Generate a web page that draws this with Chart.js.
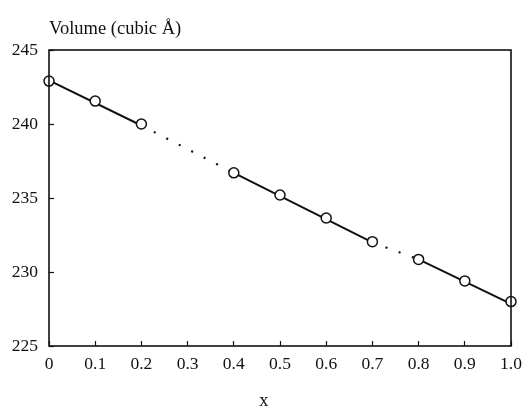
<!DOCTYPE html>
<html>
<head>
<meta charset="utf-8">
<script src="https://cdn.jsdelivr.net/npm/chart.js@4"></script>
<style>
  html, body { margin: 0; padding: 0; background: #fff; }
  #wrap { width: 525px; height: 410px; }
</style>
</head>
<body>
<div id="wrap"><canvas id="Chart"></canvas></div>
<script>
// measured points
const xVals = [0, 0.1, 0.2, 0.4, 0.5, 0.6, 0.7, 0.8, 0.9, 1.0];
const volume = [242.9, 241.55, 240.0, 236.7, 235.2, 233.65, 232.05, 230.85, 229.4, 228.0];
// fitted line: solid pieces joined by dotted pieces
const fitX = [0, 0.2, 0.4, 0.7, 0.8, 1.0];
const fitY = [242.95, 239.9, 236.7, 232.0, 230.85, 227.85];
const dottedSegs = [1, 3];
const xTicks = [0, 0.1, 0.2, 0.3, 0.4, 0.5, 0.6, 0.7, 0.8, 0.9, 1.0];
const yTicks = [225, 230, 235, 240, 245];

const yTitle = 'Volume (cubic Å)';
const xTitle = 'x';
const serif = '"Liberation Serif", "Times New Roman", serif';

const frame = {
  id: 'frame',
  afterDraw(chart) {
    const { ctx, chartArea: a } = chart;
    ctx.save();
    ctx.strokeStyle = '#111';
    ctx.lineWidth = 1.6;
    ctx.strokeRect(a.left, a.top, a.right - a.left, a.bottom - a.top);
    ctx.fillStyle = '#111';
    ctx.font = '18.5px ' + serif;
    ctx.textAlign = 'left';
    ctx.textBaseline = 'alphabetic';
    ctx.fillText(yTitle, a.left, a.top - 16);
    ctx.textAlign = 'center';
    ctx.fillText(xTitle, a.left + (a.right - a.left) * 0.465, a.bottom + 60);
    ctx.restore();
  }
};

function crearChart() {
  const ctx = document.getElementById('Chart');
  new Chart(ctx, {
    type: 'scatter',
    data: {
      datasets: [{
        data: xVals.map((x, i) => ({ x: x, y: volume[i] })),
        showLine: false,
        pointRadius: 5,
        pointBorderWidth: 1.5,
        pointBorderColor: '#111',
        pointBackgroundColor: '#fff',
        clip: false,
        order: 0
      }, {
        data: fitX.map((x, i) => ({ x: x, y: fitY[i] })),
        showLine: true,
        pointRadius: 0,
        borderColor: '#111',
        borderWidth: 2,
        clip: false,
        order: 1,
        segment: {
          borderDash: c => dottedSegs.includes(c.p0DataIndex) ? [2, 12] : undefined,
          borderWidth: c => dottedSegs.includes(c.p0DataIndex) ? 2.2 : 2
        }
      }]
    },
    options: {
      responsive: true,
      maintainAspectRatio: false,
      animation: false,
      layout: { padding: { top: 50, right: 14, left: 0, bottom: 0 } },
      scales: {
        x: {
          type: 'linear',
          min: 0, max: 1,
          afterFit: s => { s.height = 64; s.paddingLeft = 0; s.paddingRight = 0; },
          afterBuildTicks: s => { s.ticks = xTicks.map(v => ({ value: v })); },
          border: { display: false },
          grid: { drawOnChartArea: false, tickLength: -5, color: '#111', tickWidth: 1.2 },
          ticks: {
            color: '#111',
            padding: 13,
            maxRotation: 0,
            font: { family: serif, size: 17.5 },
            callback: v => v === 0 ? '0' : v.toFixed(1)
          }
        },
        y: {
          min: 225, max: 245,
          afterFit: s => { s.width = 49; s.paddingTop = 0; s.paddingBottom = 0; },
          afterBuildTicks: s => { s.ticks = yTicks.map(v => ({ value: v })); },
          border: { display: false },
          grid: { drawOnChartArea: false, tickLength: -5, color: '#111', tickWidth: 1.2 },
          ticks: {
            color: '#111',
            padding: 16,
            font: { family: serif, size: 17.5 }
          }
        }
      },
      plugins: {
        legend: { display: false },
        tooltip: { enabled: false }
      }
    },
    plugins: [frame]
  });
}
crearChart();
</script>
</body>
</html>
